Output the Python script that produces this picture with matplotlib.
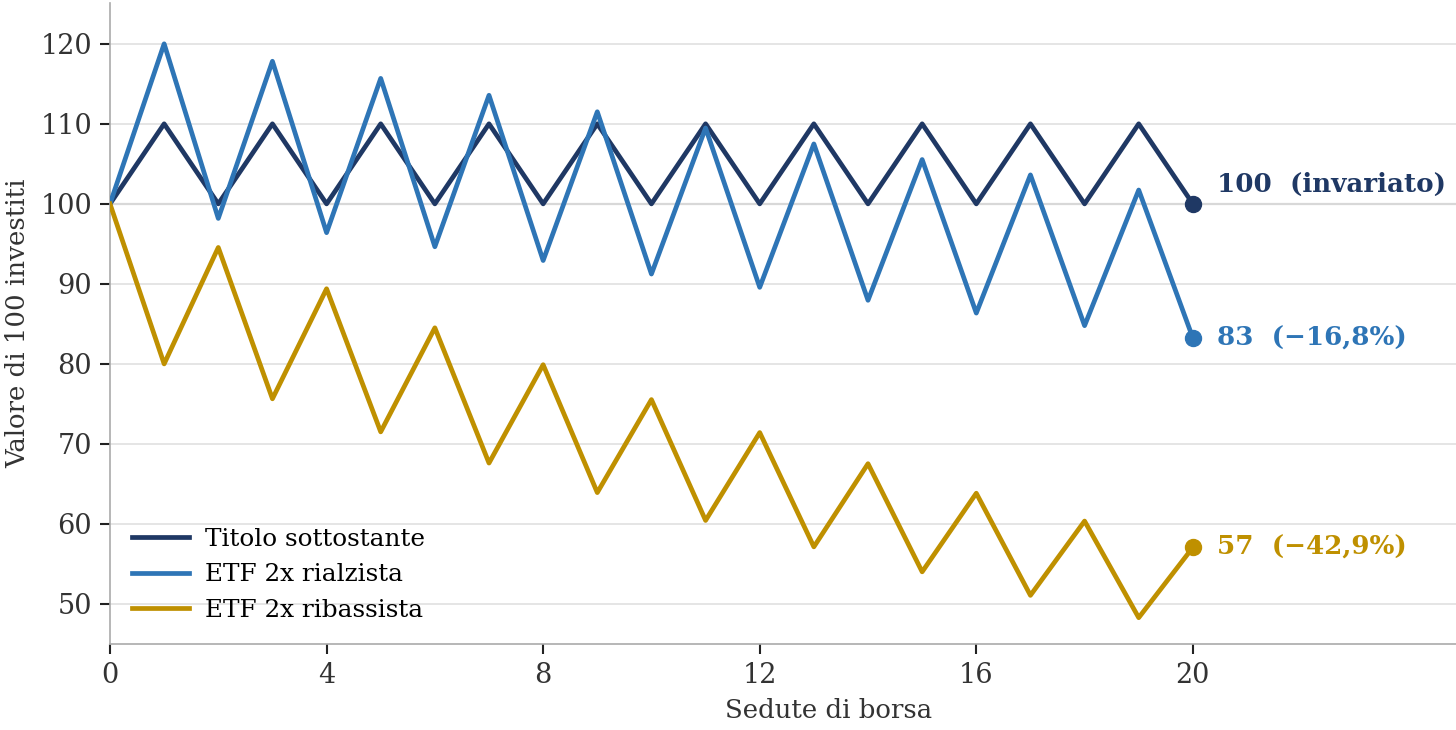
import matplotlib
matplotlib.use("Agg")
import matplotlib.pyplot as plt

sedute = list(range(21))
titolo = [100, 110, 100, 110, 100, 110, 100, 110, 100, 110, 100,
          110, 100, 110, 100, 110, 100, 110, 100, 110, 100]
rialzista = [100, 120, 98.18, 117.82, 96.40, 115.68, 94.64, 113.57, 92.92, 111.51, 91.23,
             109.48, 89.57, 107.49, 87.95, 105.54, 86.35, 103.62, 84.78, 101.73, 83.24]
ribassista = [100, 80, 94.55, 75.64, 89.39, 71.51, 84.51, 67.61, 79.90, 63.92, 75.54,
              60.44, 71.42, 57.14, 67.53, 54.02, 63.84, 51.08, 60.36, 48.29, 57.07]
nomi = ["Titolo sottostante", "ETF 2x rialzista", "ETF 2x ribassista"]
etichette = ["100  (invariato)", "83  (\u221216,8%)", "57  (\u221242,9%)"]
colori = ["#1f3864", "#2e75b6", "#bf9000"]
yticks = [50, 60, 70, 80, 90, 100, 110, 120]
xticks = [0, 4, 8, 12, 16, 20]

plt.rcParams['font.family'] = ['DejaVu Serif']

fig = plt.figure(figsize=(14.56, 7.30), dpi=100)
ax = fig.add_axes([110/1456, 86/730, 1 - 110/1456, 641/730])

ax.axhline(100, color="#d8d8d8", lw=1.6, zorder=1)
serie = [titolo, rialzista, ribassista]
for s, c, n in zip(serie, colori, nomi):
    ax.plot(sedute, s, color=c, lw=3.4, label=n, zorder=3)
    ax.plot(sedute[-1], s[-1], 'o', color=c, ms=11.5, zorder=4)

offsets = [19, 0, 0]
for s, c, t, off in zip(serie, colori, etichette, offsets):
    ax.annotate(t, (sedute[-1], s[-1]), xytext=(24, off), textcoords="offset pixels",
                color=c, fontsize=18.8, fontweight="bold", va="center", ha="left")

ax.set_xlim(0, 24.86)
ax.set_ylim(45, 125.1)
ax.set_xticks(xticks)
ax.set_yticks(yticks)
ax.grid(axis="y", color="#e0e0e0", lw=1.2, zorder=0)
ax.set_axisbelow(True)
for sp in ["top", "right"]:
    ax.spines[sp].set_visible(False)
for sp in ["left", "bottom"]:
    ax.spines[sp].set_color("#aaaaaa")
    ax.spines[sp].set_linewidth(1.2)
ax.tick_params(axis="both", labelsize=19.5, labelcolor="#333333", length=7, width=1.5,
               pad=6, color="#222222")
ax.set_xlabel("Sedute di borsa", fontsize=18.7, color="#333333")
ax.xaxis.set_label_coords((829 - 110) / 1346, -0.085)
ax.set_ylabel("Valore di 100 investiti", fontsize=18.7, color="#333333", labelpad=7)

leg = ax.legend(loc="lower left", frameon=False, fontsize=17.8, handlelength=2.3,
                borderaxespad=0.5, labelspacing=0.5, handletextpad=0.65,
                bbox_to_anchor=(0.0, 0.0))

fig.savefig("out.png", dpi=100)
